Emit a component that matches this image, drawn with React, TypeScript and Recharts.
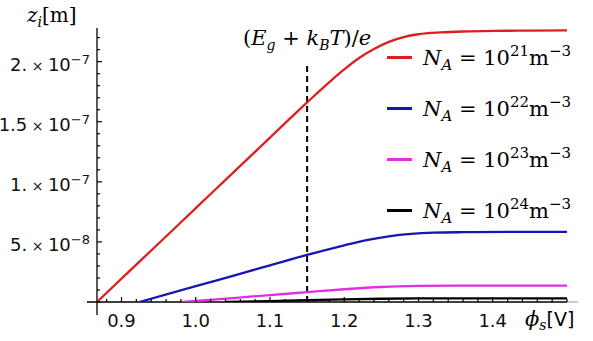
import React from "react";
import { LineChart, Line, XAxis, YAxis, ReferenceLine, Legend, Label } from "recharts";

// surface potential phi_s [V] vs. z_i [m], one curve per doping N_A
const redPhi = [0.867, 0.9, 0.95, 1.0, 1.05, 1.1, 1.15, 1.18, 1.2, 1.22, 1.24, 1.26, 1.28, 1.3, 1.33, 1.36, 1.4, 1.45, 1.5];
const redZ = [0, 1.94e-8, 4.87e-8, 7.81e-8, 1.074e-7, 1.368e-7, 1.661e-7, 1.83e-7, 1.935e-7, 2.03e-7, 2.105e-7, 2.165e-7, 2.205e-7, 2.228e-7, 2.243e-7, 2.251e-7, 2.256e-7, 2.258e-7, 2.26e-7];

const bluePhi = [0.924, 1.0, 1.05, 1.1, 1.15, 1.2, 1.23, 1.26, 1.29, 1.32, 1.36, 1.42, 1.5];
const blueZ = [0, 1.32e-8, 2.18e-8, 3.05e-8, 3.92e-8, 4.72e-8, 5.15e-8, 5.47e-8, 5.67e-8, 5.77e-8, 5.81e-8, 5.83e-8, 5.84e-8];

const magentaPhi = [0.982, 1.05, 1.1, 1.15, 1.2, 1.25, 1.3, 1.35, 1.4, 1.5];
const magentaZ = [0, 3.3e-9, 5.8e-9, 8.2e-9, 1.06e-8, 1.25e-8, 1.34e-8, 1.365e-8, 1.37e-8, 1.37e-8];

const blackPhi = [1.04, 1.1, 1.15, 1.2, 1.25, 1.3, 1.4, 1.5];
const blackZ = [0, 8e-10, 1.5e-9, 2.2e-9, 2.7e-9, 2.95e-9, 3.05e-9, 3.05e-9];

const exponents = ["21", "22", "23", "24"];
const colors = ["#dc1f1f", "#1616b4", "#e22ee2", "#000000"];

const xTicks = [0.88, 0.9, 0.92, 0.94, 0.96, 0.98, 1.0, 1.02, 1.04, 1.06, 1.08, 1.1, 1.12, 1.14, 1.16, 1.18, 1.2, 1.22, 1.24, 1.26, 1.28, 1.3, 1.32, 1.34, 1.36, 1.38, 1.4, 1.42, 1.44, 1.46, 1.48, 1.5];
const xMajor = [0.9, 1.0, 1.1, 1.2, 1.3, 1.4];
const xMajorLabels = ["0.9", "1.0", "1.1", "1.2", "1.3", "1.4"];

const yTicks = [0, 1e-8, 2e-8, 3e-8, 4e-8, 5e-8, 6e-8, 7e-8, 8e-8, 9e-8, 1e-7, 1.1e-7, 1.2e-7, 1.3e-7, 1.4e-7, 1.5e-7, 1.6e-7, 1.7e-7, 1.8e-7, 1.9e-7, 2e-7, 2.1e-7, 2.2e-7];
const yMajor = [5e-8, 1e-7, 1.5e-7, 2e-7];
const yMantissa = ["5.", "1.", "1.5", "2."];
const yExponent = ["\u22128", "\u22127", "\u22127", "\u22127"];

const thresholdPhi = 1.15;
const thresholdTop = 1.97e-7;

const toPoints = (phi: number[], z: number[]) => phi.map((p, i) => ({ phi: p, z: z[i] }));
const series = [
  toPoints(redPhi, redZ),
  toPoints(bluePhi, blueZ),
  toPoints(magentaPhi, magentaZ),
  toPoints(blackPhi, blackZ),
];

const serif = "DejaVu Serif";
const sans = "DejaVu Sans";

function XTick(props: any) {
  const { x, y, payload } = props;
  const idx = xMajor.findIndex((m) => Math.abs(m - payload.value) < 1e-9);
  const major = idx >= 0;
  return (
    <g>
      <line x1={x} x2={x} y1={y} y2={y - (major ? 5 : 3)} stroke="#000" strokeWidth={1.2} />
      {major && (
        <text x={x} y={y + 25} textAnchor="middle" fontFamily={sans} fontSize={18} fill="#111">
          {xMajorLabels[idx]}
        </text>
      )}
    </g>
  );
}

function YTick(props: any) {
  const { x, y, payload } = props;
  const idx = yMajor.findIndex((m) => Math.abs(m - payload.value) < m * 1e-3);
  const major = idx >= 0;
  return (
    <g>
      <line x1={x} x2={x + (major ? 5 : 3)} y1={y} y2={y} stroke="#000" strokeWidth={1.2} />
      {major && (
        <text x={x - 7} y={y + 9} textAnchor="end" fontFamily={sans} fontSize={18} fill="#111">
          {yMantissa[idx]}
          <tspan fontSize={14}>{" \u00d7 "}</tspan>
          10
          <tspan dy={-7} fontSize={13}>{yExponent[idx]}</tspan>
        </text>
      )}
    </g>
  );
}

function YTitle(props: any) {
  const { x, y } = props.viewBox;
  return (
    <text x={x + 27} y={y - 6} fontFamily={serif} fontSize={20} fill="#000">
      <tspan fontStyle="italic">z</tspan>
      <tspan fontStyle="italic" fontSize={14} dy={5}>i</tspan>
      <tspan dy={-5}>[m]</tspan>
    </text>
  );
}

function XTitle(props: any) {
  const { x, y, width } = props.viewBox;
  return (
    <text x={x + width - 42} y={y + 24} fontFamily={serif} fontSize={21} fill="#000">
      <tspan fontStyle="italic">{"\u03d5"}</tspan>
      <tspan fontStyle="italic" fontSize={14} dy={4}>s</tspan>
      <tspan dy={-4} fontFamily={sans} fontSize={19}>[V]</tspan>
    </text>
  );
}

function ThresholdLabel(props: any) {
  const { x, y } = props.viewBox;
  return (
    <text x={x} y={y - 20} textAnchor="middle" fontFamily={serif} fontSize={21} fill="#000">
      (<tspan fontStyle="italic">E</tspan>
      <tspan fontStyle="italic" fontSize={14} dy={5}>g</tspan>
      <tspan dy={-5}>{" + "}</tspan>
      <tspan fontStyle="italic">k</tspan>
      <tspan fontStyle="italic" fontSize={14} dy={5}>B</tspan>
      <tspan fontStyle="italic" dy={-5}>T</tspan>
      <tspan>)/</tspan>
      <tspan fontStyle="italic">e</tspan>
    </text>
  );
}

function LegendBox(props: any) {
  const items = props.payload || [];
  return (
    <div style={{ fontFamily: serif, fontSize: 21, color: "#000" }}>
      {items.map((entry: any) => (
        <div key={entry.value} style={{ height: 51, display: "flex", alignItems: "center", whiteSpace: "nowrap" }}>
          <span style={{ display: "inline-block", width: 25, height: 2.5, background: entry.color, marginRight: 11 }} />
          <span>
            <span style={{ fontStyle: "italic" }}>N</span>
            <span style={{ fontStyle: "italic", fontSize: 15, position: "relative", top: 5 }}>A</span>
            {" = 10"}
            <span style={{ fontSize: 15, position: "relative", top: -9 }}>{entry.value}</span>
            m
            <span style={{ fontSize: 15, position: "relative", top: -9 }}>{"\u22123"}</span>
          </span>
        </div>
      ))}
    </div>
  );
}

export default function App() {
  return (
    <div style={{ position: "absolute", left: 0, top: 0, background: "#fff" }}>
      <LineChart width={593} height={341} margin={{ top: 28, right: 26, bottom: 0, left: 0 }}>
        <XAxis
          type="number"
          dataKey="phi"
          domain={[0.867, 1.5]}
          allowDataOverflow
          ticks={xTicks}
          interval={0}
          tickSize={0}
          tickMargin={0}
          tickLine={false}
          axisLine={false}
          tick={<XTick />}
          height={39}
        >
          <Label content={<XTitle />} />
        </XAxis>
        <YAxis
          type="number"
          dataKey="z"
          domain={[0, 2.28e-7]}
          allowDataOverflow
          ticks={yTicks}
          interval={0}
          tickSize={0}
          tickMargin={0}
          tickLine={false}
          axisLine={false}
          tick={<YTick />}
          width={97}
        >
          <Label content={<YTitle />} />
        </YAxis>
        <ReferenceLine
          segment={[{ x: 0.8535, y: 0 }, { x: 1.5, y: 0 }]}
          stroke="#000"
          strokeWidth={1.3}
          ifOverflow="visible"
        />
        <ReferenceLine
          segment={[{ x: 1.5, y: 0 }, { x: 1.515, y: 0 }]}
          stroke="#999"
          strokeWidth={1}
          ifOverflow="visible"
        />
        <ReferenceLine
          segment={[{ x: 0.867, y: -1.08e-8 }, { x: 0.867, y: 2.28e-7 }]}
          stroke="#000"
          strokeWidth={1.3}
          ifOverflow="visible"
        />
        <ReferenceLine
          segment={[{ x: thresholdPhi, y: 0 }, { x: thresholdPhi, y: thresholdTop }]}
          stroke="#000"
          strokeWidth={2}
          strokeDasharray="6 4"
          ifOverflow="visible"
          label={<ThresholdLabel />}
        />
        {series.map((data, i) => (
          <Line
            key={exponents[i]}
            data={data}
            dataKey="z"
            name={exponents[i]}
            type="monotone"
            stroke={colors[i]}
            strokeWidth={2.3}
            dot={false}
            isAnimationActive={false}
          />
        ))}
        <Legend
          layout="vertical"
          align="center"
          verticalAlign="middle"
          content={<LegendBox />}
          wrapperStyle={{ top: 32, left: 387, width: 206, height: 210 }}
        />
      </LineChart>
    </div>
  );
}
